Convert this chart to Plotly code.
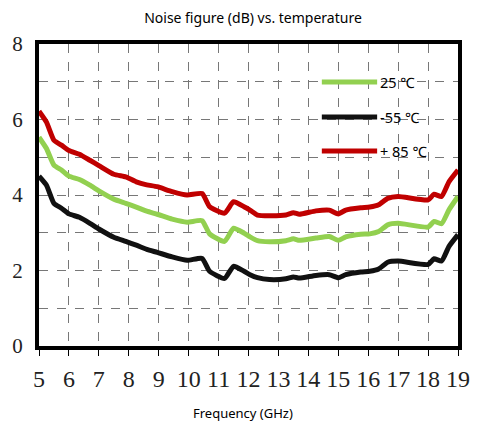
import plotly.graph_objects as go

freq = [5, 5.25, 5.5, 5.75, 6.0, 6.35, 6.7, 7.0, 7.5, 7.9, 8.25, 8.6, 8.95, 9.45, 9.95,
        10.45, 10.7, 11.2, 11.5, 11.85, 12.05, 12.3, 12.7, 13.25, 13.5, 13.7, 14.25, 14.7,
        15.0, 15.25, 15.75, 16.05, 16.35, 16.65, 17.0, 18.0, 18.2, 18.45, 18.7, 19.0]

nf_85 = [6.22, 5.93, 5.45, 5.32, 5.18, 5.08, 4.92, 4.78, 4.55, 4.48, 4.35, 4.27, 4.22, 4.09, 4.00,
         4.04, 3.69, 3.52, 3.82, 3.69, 3.60, 3.47, 3.45, 3.47, 3.53, 3.49, 3.58, 3.60,
         3.50, 3.60, 3.66, 3.68, 3.74, 3.91, 3.96, 3.87, 4.02, 3.96, 4.35, 4.66]

nf_25 = [5.53, 5.23, 4.79, 4.66, 4.50, 4.41, 4.26, 4.11, 3.89, 3.78, 3.68, 3.57, 3.49, 3.36, 3.28,
         3.32, 2.97, 2.77, 3.12, 2.99, 2.89, 2.79, 2.76, 2.79, 2.84, 2.80, 2.86, 2.90,
         2.80, 2.89, 2.96, 2.97, 3.03, 3.21, 3.25, 3.15, 3.30, 3.24, 3.61, 3.96]

nf_m55 = [4.50, 4.26, 3.78, 3.65, 3.50, 3.41, 3.25, 3.10, 2.88, 2.77, 2.67, 2.56, 2.48, 2.36, 2.27,
          2.32, 1.98, 1.79, 2.11, 1.98, 1.89, 1.81, 1.76, 1.78, 1.83, 1.80, 1.87, 1.89,
          1.81, 1.89, 1.96, 1.98, 2.04, 2.22, 2.25, 2.16, 2.31, 2.25, 2.64, 2.95]

series_names = ["25 \u2103", "-55 \u2103", "+ 85 \u2103"]
series_vals = [nf_25, nf_m55, nf_85]
series_colors = ["#92D050", "#111111", "#C00000"]

fig = go.Figure()
for name, vals, col in zip(series_names, series_vals, series_colors):
    fig.add_trace(go.Scatter(x=freq, y=vals, mode="lines", name=name,
                             line=dict(color=col, width=5, shape="spline", smoothing=0.5),
                             showlegend=False))

# manual legend (inside plot, upper right)
leg_y = [0.874, 0.758, 0.646]
for name, col, yy in zip(series_names, series_colors, leg_y):
    fig.add_shape(type="line", xref="x domain", yref="y domain",
                  x0=0.675, x1=0.807, y0=yy, y1=yy,
                  line=dict(color=col, width=5))
    fig.add_annotation(xref="x domain", yref="y domain", x=0.81, y=yy,
                       text=name, showarrow=False, xanchor="left", yanchor="middle",
                       font=dict(family="Noto Sans", size=14.5, color="#000"))

fig.add_annotation(xref="paper", yref="paper", x=(243 - 39) / 419, y=(346 - 413) / 302,
                   text="Frequency (GHz)", showarrow=False,
                   xanchor="center", yanchor="middle",
                   font=dict(family="Noto Sans", size=13, color="#000"))

fig.update_layout(
    width=470, height=420,
    margin=dict(l=31, r=20, t=36, b=82, autoexpand=False),
    paper_bgcolor="white", plot_bgcolor="white",
    title=dict(text="Noise figure (dB) vs. temperature", x=245/470, xanchor="center",
               y=1 - 10/420, yanchor="middle", automargin=False,
               font=dict(family="Noto Sans", size=14, color="#000")),
)

fig.update_xaxes(range=[5, 19], dtick=1, tick0=5, automargin=False,
                 showline=True, linewidth=4, linecolor="black", mirror=True,
                 showgrid=True, gridcolor="#777", griddash="dash", gridwidth=1,
                 ticks="outside", ticklen=6, tickwidth=1, tickcolor="black",
                 ticklabelstandoff=2,
                 tickfont=dict(family="Liberation Serif", size=24, color="#222"),
                 zeroline=False)
fig.update_yaxes(range=[0, 8], dtick=2, tick0=0, automargin=False,
                 showline=True, linewidth=4, linecolor="black", mirror=True,
                 showgrid=True, gridcolor="#777", griddash="dash", gridwidth=1,
                 minor=dict(dtick=1, showgrid=True, gridcolor="#777", griddash="dash", gridwidth=1),
                 ticks="", ticklabelstandoff=8,
                 tickfont=dict(family="Liberation Serif", size=21, color="#222"),
                 zeroline=False)

fig.write_html("out.html")
